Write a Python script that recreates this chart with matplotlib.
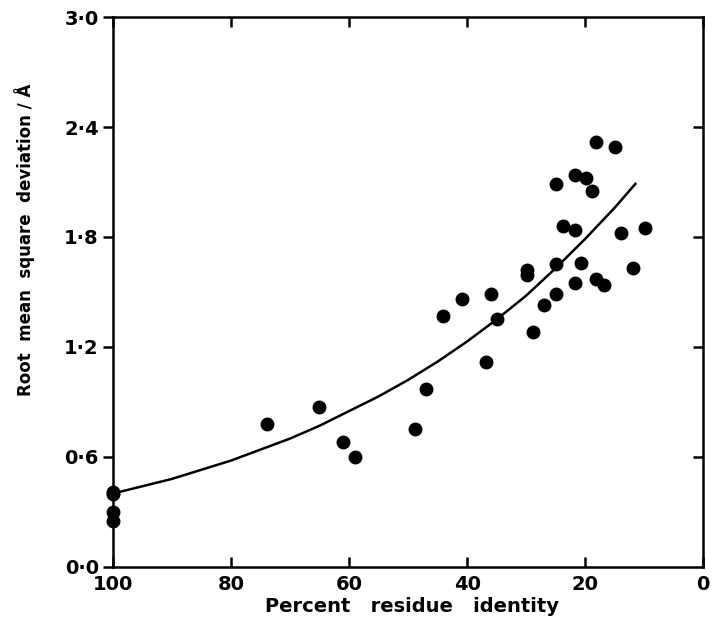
import matplotlib
matplotlib.use("Agg")
import matplotlib.pyplot as plt

# Measured points: percent residue identity vs rms deviation (A)
identity = [100, 100, 100, 100, 73.9, 65.0, 61.0, 58.9, 48.9, 47.0, 44.0, 40.9,
            36.8, 35.9, 34.9, 29.8, 29.8, 28.9, 26.9, 24.9, 24.9, 24.9, 23.8,
            21.8, 21.8, 21.8, 20.7, 19.9, 18.8, 18.1, 18.1, 16.8, 14.9, 13.9,
            11.9, 9.8]
rmsd = [0.41, 0.40, 0.30, 0.25, 0.78, 0.87, 0.68, 0.60, 0.75, 0.97, 1.37, 1.46,
        1.12, 1.49, 1.35, 1.62, 1.59, 1.28, 1.43, 2.09, 1.65, 1.49, 1.86,
        1.84, 1.55, 2.14, 1.66, 2.12, 2.05, 2.32, 1.57, 1.54, 2.29, 1.82,
        1.63, 1.85]

# Fitted curve
curve_x = [100, 95, 90, 85, 80, 75, 70, 65, 60, 55, 50, 45, 40, 35, 30, 25, 20, 15, 11.5]
curve_y = [0.40, 0.44, 0.48, 0.53, 0.58, 0.64, 0.70, 0.77, 0.85, 0.93, 1.02,
           1.12, 1.23, 1.35, 1.48, 1.63, 1.79, 1.96, 2.09]

xticks = [100, 80, 60, 40, 20, 0]
yticks = [0.0, 0.6, 1.2, 1.8, 2.4, 3.0]
ytick_labels = ['0\u00b70', '0\u00b76', '1\u00b72', '1\u00b78', '2\u00b74', '3\u00b70']

plt.rcParams['font.family'] = 'DejaVu Sans'
plt.rcParams['font.weight'] = 'bold'

fig = plt.figure(figsize=(7.14, 6.32), dpi=100)
ax = fig.add_axes([0.158, 0.103, 0.827, 0.870])

ax.plot(curve_x, curve_y, color='black', lw=1.8, zorder=2)
ax.plot(identity, rmsd, 'o', color='black', ms=9, zorder=3, clip_on=False)

ax.set_xlim(100, 0)
ax.set_ylim(0, 3.0)
ax.set_xticks(xticks)
ax.set_xticklabels([str(t) for t in xticks])
ax.set_yticks(yticks)
ax.set_yticklabels(ytick_labels)

for s in ax.spines.values():
    s.set_linewidth(1.8)

# left ticks point out, the others point in
ax.tick_params(axis='y', direction='out', length=7, width=1.8,
               labelsize=14, pad=3)
ax.tick_params(axis='x', direction='in', length=7, width=1.8, top=True,
               labelsize=14, pad=6)
right = ax.secondary_yaxis('right')
right.set_yticks(yticks[1:-1])
right.tick_params(direction='in', length=7, width=1.8, labelright=False)
right.spines['right'].set_visible(False)

ax.set_xlabel('Percent   residue   identity', fontsize=14, fontweight='bold')
ax.set_ylabel('Root  mean  square  deviation / \u00c5', fontsize=12,
              fontweight='bold')
ax.xaxis.set_label_coords(0.507, -0.055)
ax.yaxis.set_label_coords(-0.132, 0.595)

fig.savefig('out.png', dpi=100)
